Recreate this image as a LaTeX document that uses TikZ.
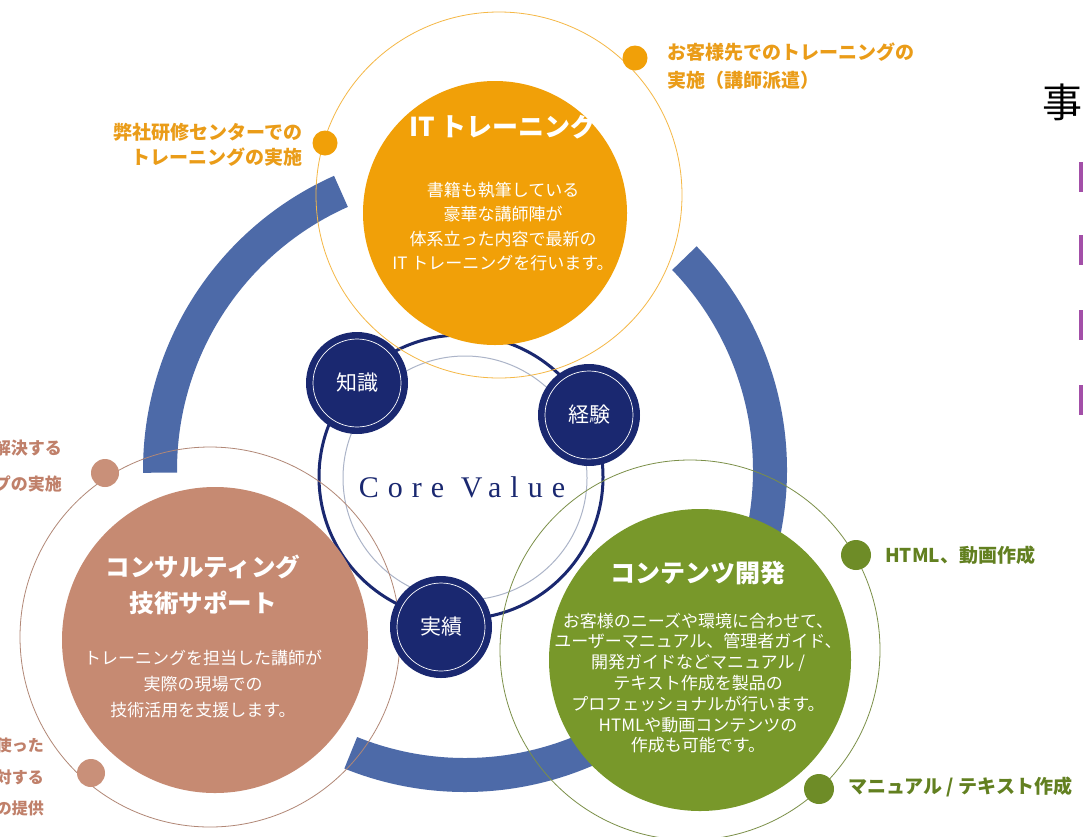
\documentclass[tikz,border=0pt]{standalone}
\usepackage{fontspec}
\newfontfamily\jp{Noto Sans CJK JP}
\newfontfamily\cvfont[LetterSpace=30]{Liberation Serif}
\definecolor{orng}{RGB}{241,160,8}
\definecolor{orngtxt}{RGB}{234,156,24}
\definecolor{brwn}{RGB}{198,138,114}
\definecolor{brwntxt}{RGB}{192,128,106}
\definecolor{grn}{RGB}{120,152,42}
\definecolor{grntxt}{RGB}{98,128,32}
\definecolor{navy}{RGB}{26,40,112}
\definecolor{arcblue}{RGB}{77,106,168}
\definecolor{mag}{RGB}{163,79,168}
\definecolor{ringgray}{RGB}{172,180,200}
\tikzset{
  bluearc/.style={fill=arcblue},
  thinring/.style={line width=0.8pt},
  bigfill/.style={circle, inner sep=0pt, minimum size=#1},
  navydot/.style={circle, fill=navy, inner sep=0pt, minimum size=102pt},
  innerwhite/.style={draw=white, line width=0.7pt},
  smalldot/.style={circle, inner sep=0pt, minimum size=#1},
  txt/.style={inner sep=0pt, font=\jp},
}
\begin{document}
\begin{tikzpicture}[x=1pt,y=-1pt]
\useasboundingbox (0,0) rectangle (1083,836);
\clip (0,0) rectangle (1083,836);
\fill[white] (0,0) rectangle (1083,836);

% big blue ring segments
\begin{scope}[shift={(465,470)}]
\fill[bluearc] (-114:322) arc[start angle=-114, end angle=-180.5, radius=322]
  -- (-180.5:288) arc[start angle=-180.5, end angle=-114, radius=288] -- cycle;
\fill[bluearc] (-44:322) arc[start angle=-44, end angle=13, radius=322]
  -- (13:288) arc[start angle=13, end angle=-44, radius=288] -- cycle;
\fill[bluearc] (112:322) arc[start angle=112, end angle=65, radius=322]
  -- (65:288) arc[start angle=65, end angle=112, radius=288] -- cycle;
\end{scope}

% core value rings
\coordinate (core) at (461,477);
\draw[navy, line width=3pt] (core) circle[radius=142];
\draw[ringgray, line width=1pt] (465,478) circle[radius=122];

% thin outer rings
\draw[thinring, orng!75] (499,195) circle[radius=183];
\draw[thinring, brwn!70!gray] (210,637) circle[radius=190];
\draw[thinring, grn!65!gray] (690,650) circle[radius=190];

% filled main circles
\node[bigfill=264pt, fill=orng] (itc) at (495,213) {};
\node[bigfill=306pt, fill=brwn] (csc) at (215,640) {};
\node[bigfill=302pt, fill=grn] (ctc) at (700,660) {};

% small navy circles
\node[navydot] (chishiki) at (357,383) {};
\node[navydot] (keiken) at (589,415) {};
\node[navydot] (jisseki) at (441,627) {};
\draw[innerwhite] (chishiki) circle[radius=44];
\draw[innerwhite] (keiken) circle[radius=44];
\draw[innerwhite] (jisseki) circle[radius=44];
\node[txt, text=white, font=\jp\fontsize{21}{21}\selectfont] at (chishiki) {知識};
\node[txt, text=white, font=\jp\fontsize{21}{21}\selectfont] at (keiken) {経験};
\node[txt, text=white, font=\jp\fontsize{21}{21}\selectfont] at (jisseki) {実績};

\node[inner sep=0pt, text=navy, font=\cvfont\fontsize{30}{30}\selectfont] (cv) at (462,487) {Core Value};

% dots on rings
\node[smalldot=25pt, fill=orng] (od1) at (325,143) {};
\node[smalldot=25pt, fill=orng] (od2) at (635,58) {};
\node[smalldot=28pt, fill=brwn!95!white] (bd1) at (105,473) {};
\node[smalldot=28pt, fill=brwn!95!white] (bd2) at (91,773) {};
\node[smalldot=30pt, fill=grn!92!black] (gd1) at (856,555) {};
\node[smalldot=30pt, fill=grn!92!black] (gd2) at (819,789) {};

% outside labels
\node[txt, text=orngtxt, anchor=east, align=right, font=\jp\bfseries\fontsize{19}{25}\selectfont] (ol1) at (303,144.5) {弊社研修センターでの\\トレーニングの実施};
\node[txt, text=orngtxt, anchor=west, align=left, font=\jp\bfseries\fontsize{19}{28}\selectfont] (ol2) at (667,66) {お客様先でのトレーニングの\\実施（講師派遣）};
\node[txt, text=brwntxt, anchor=east, align=right, font=\jp\bfseries\fontsize{17}{36}\selectfont] (bl1) at (62,466) {解決する\\プの実施};
\node[txt, text=brwntxt, anchor=east, align=right, font=\jp\bfseries\fontsize{16}{31.5}\selectfont] (bl2) at (44,777) {使った\\対する\\の提供};
\node[txt, text=grntxt, anchor=west, font=\jp\bfseries\fontsize{19}{19}\selectfont] (gl1) at (885,555) {HTML、動画作成};
\node[txt, text=grntxt, anchor=west, font=\jp\bfseries\fontsize{19}{19}\selectfont] (gl2) at (848,787) {マニュアル / テキスト作成};

% circle texts
\node[txt, text=white, font=\jp\bfseries\fontsize{26}{26}\selectfont] (itt) at (503,126) {IT トレーニング};
\node[txt, text=white, align=center, font=\jp\fontsize{17}{24.3}\selectfont] (itb) at (503,226.5) {書籍も執筆している\\豪華な講師陣が\\体系立った内容で最新の\\IT トレーニングを行います。};

\node[txt, text=white, align=center, font=\jp\bfseries\fontsize{24.5}{36}\selectfont] (cst) at (203,585) {コンサルティング\\技術サポート};
\node[txt, text=white, align=center, font=\jp\fontsize{17}{26}\selectfont] (csb) at (203,684) {トレーニングを担当した講師が\\実際の現場での\\技術活用を支援します。};

\node[txt, text=white, font=\jp\bfseries\fontsize{25}{25}\selectfont] (ctt) at (698,573) {コンテンツ開発};
\node[txt, text=white, align=center, font=\jp\fontsize{17}{20.8}\selectfont] (ctb) at (698,683) {お客様のニーズや環境に合わせて、\\ユーザーマニュアル、管理者ガイド、\\開発ガイドなどマニュアル /\\テキスト作成を製品の\\プロフェッショナルが行います。\\HTMLや動画コンテンツの\\作成も可能です。};

% right side fragment
\node[txt, text=black, font=\jp\fontsize{40}{40}\selectfont] (koto) at (1062,102) {事};
\fill[mag] (1079,162) rectangle (1083,192);
\fill[mag] (1079,235) rectangle (1083,265);
\fill[mag] (1079,310) rectangle (1083,340);
\fill[mag] (1079,385) rectangle (1083,415);
\end{tikzpicture}
\end{document}
